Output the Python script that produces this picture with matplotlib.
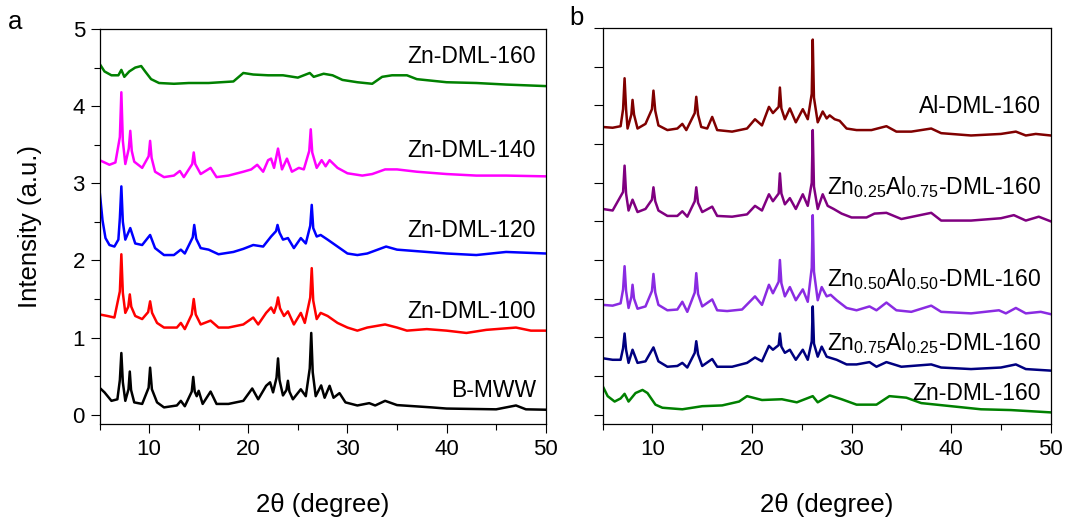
import matplotlib
matplotlib.use("Agg")
import matplotlib.pyplot as plt
from matplotlib.ticker import MultipleLocator

plt.rcParams['font.family'] = ['Liberation Sans', 'DejaVu Sans']
plt.rcParams['mathtext.fontset'] = 'custom'
plt.rcParams['mathtext.rm'] = 'Liberation Sans'

# ---- panel a: peak/baseline points (2theta, intensity) ----
bmww_x = [5, 5.5, 6.2, 6.8, 7.2, 7.6, 8.05, 8.5, 9.3, 10.1, 10.8, 11.5, 12.8, 13.2, 13.6,
          14.45, 14.8, 15.0, 15.4, 16.2, 16.8, 18, 19.5, 20.4, 21, 21.8, 22.2, 22.5, 23.0,
          23.5, 24.0, 24.5, 25.3, 25.8, 26.35, 26.8, 27.35, 27.7, 28.2, 28.6, 29.2, 29.8,
          31, 32.2, 32.8, 33.8, 35, 38.5, 40, 45, 47, 48, 50]
bmww_y = [0.35, 0.29, 0.18, 0.2, 0.8, 0.18, 0.56, 0.16, 0.14, 0.61, 0.16, 0.095, 0.12, 0.18, 0.11,
          0.49, 0.24, 0.31, 0.14, 0.30, 0.14, 0.14, 0.18, 0.34, 0.2, 0.375, 0.42, 0.29, 0.73,
          0.25, 0.44, 0.2, 0.33, 0.24, 1.06, 0.24, 0.38, 0.22, 0.375, 0.22, 0.28, 0.16,
          0.12, 0.15, 0.12, 0.18, 0.125, 0.095, 0.08, 0.07, 0.12, 0.07, 0.065]
# flanks of the sharp reflections
bmww_sx = [7.05, 7.35, 7.92, 8.18, 9.95, 10.28, 14.3, 14.6, 22.85, 23.15, 23.85, 24.15, 26.2, 26.5]
bmww_sy = [0.45, 0.42, 0.33, 0.32, 0.35, 0.33, 0.30, 0.30, 0.48, 0.45, 0.32, 0.30, 0.60, 0.55]

dml100_x = [5, 5.8, 6.5, 7.2, 7.6, 8.05, 8.6, 9.3, 10.1, 10.8, 11.5, 12.8, 13.2, 13.6, 14.5,
            15.2, 16.2, 17, 18, 19.5, 20.5, 21, 21.8, 22.3, 22.6, 23.0, 23.6, 24.0, 24.6,
            25.3, 25.7, 26.4, 26.9, 27.3, 28, 29, 30, 31, 32, 33.8, 35, 36, 38, 40, 42,
            44, 47, 48.5, 50]
dml100_y = [1.30, 1.28, 1.26, 2.08, 1.32, 1.56, 1.28, 1.24, 1.47, 1.19, 1.13, 1.13, 1.19, 1.11, 1.50,
            1.17, 1.22, 1.13, 1.13, 1.17, 1.26, 1.17, 1.32, 1.39, 1.32, 1.52, 1.28, 1.34, 1.17,
            1.32, 1.19, 1.90, 1.24, 1.32, 1.28, 1.19, 1.13, 1.09, 1.13, 1.17, 1.13, 1.09, 1.11, 1.09, 1.06,
            1.10, 1.13, 1.09, 1.09]
dml100_sx = [7.05, 7.35, 7.9, 8.2, 9.9, 10.3, 14.3, 14.7, 22.85, 23.2, 26.25, 26.55]
dml100_sy = [1.60, 1.58, 1.40, 1.40, 1.33, 1.32, 1.30, 1.30, 1.42, 1.38, 1.52, 1.48]

dml120_x = [5, 5.3, 5.6, 6, 6.5, 6.9, 7.2, 7.6, 8.1, 8.6, 9.3, 10.1, 10.6, 11.5, 12.5, 13.2,
            13.6, 14.55, 15.2, 16.0, 17, 18.5, 19.5, 20.5, 21.5, 22.3, 22.95, 23.5, 24.0,
            24.6, 25.3, 25.8, 26.4, 26.9, 27.3, 28, 29, 30, 31, 32, 33.9, 35, 37, 40, 43, 46, 50]
dml120_y = [2.91, 2.52, 2.29, 2.20, 2.18, 2.27, 2.96, 2.27, 2.42, 2.22, 2.20, 2.33, 2.16, 2.07, 2.07, 2.14,
            2.09, 2.46, 2.16, 2.14, 2.08, 2.11, 2.15, 2.20, 2.18, 2.31, 2.46, 2.27, 2.29,
            2.16, 2.29, 2.22, 2.72, 2.31, 2.33, 2.27, 2.18, 2.09, 2.07, 2.09, 2.18, 2.14, 2.12, 2.09, 2.07, 2.11, 2.09]
dml120_sx = [7.05, 7.35, 14.4, 14.75, 22.8, 23.15, 26.25, 26.55]
dml120_sy = [2.55, 2.50, 2.30, 2.28, 2.38, 2.36, 2.45, 2.42]

dml140_x = [5, 6.0, 6.6, 7.2, 7.6, 8.1, 8.5, 9.3, 10.1, 10.6, 11.5, 12.5, 13.1, 13.5, 14.5,
            15.2, 16.2, 16.8, 18, 19.5, 20.3, 20.9, 21.5, 22.0, 22.3, 22.6, 23.0, 23.4, 23.9,
            24.4, 25.1, 25.6, 26.3, 26.9, 27.4, 27.8, 28.2, 29, 30, 31.5, 32.5, 33.8, 35, 37,
            40, 43, 46, 50]
dml140_y = [3.30, 3.24, 3.27, 4.18, 3.25, 3.68, 3.28, 3.20, 3.55, 3.15, 3.08, 3.10, 3.16, 3.08, 3.40,
            3.12, 3.20, 3.08, 3.10, 3.15, 3.18, 3.24, 3.15, 3.30, 3.32, 3.20, 3.45, 3.18, 3.32,
            3.15, 3.20, 3.18, 3.70, 3.20, 3.30, 3.22, 3.30, 3.20, 3.13, 3.10, 3.12, 3.18, 3.18, 3.15,
            3.12, 3.10, 3.10, 3.09]
dml140_sx = [7.05, 7.35, 7.95, 8.25, 9.95, 10.25, 14.35, 14.65, 26.15, 26.45]
dml140_sy = [3.60, 3.55, 3.45, 3.42, 3.35, 3.33, 3.25, 3.25, 3.42, 3.40]

dml160_x = [5, 5.5, 6.2, 6.9, 7.2, 7.5, 8.0, 8.6, 9.2, 9.6, 10.2, 11, 12.5, 14, 16, 18.5, 19.5,
            20.5, 22, 23.5, 25, 26.2, 26.6, 27.6, 28.5, 29.5, 31, 32.5, 33.5, 34.5, 36, 37,
            40, 43, 46, 50]
dml160_y = [4.55, 4.45, 4.40, 4.40, 4.47, 4.38, 4.45, 4.50, 4.52, 4.45, 4.35, 4.30, 4.29, 4.30, 4.30, 4.32, 4.43,
            4.41, 4.40, 4.40, 4.37, 4.43, 4.38, 4.42, 4.40, 4.34, 4.31, 4.29, 4.38, 4.40, 4.40, 4.35,
            4.31, 4.30, 4.28, 4.26]
dml160_sx = []
dml160_sy = []

# ---- panel b ----
al_x = [5, 6, 6.8, 7.2, 7.5, 8.0, 8.5, 9.3, 10.1, 10.6, 11.5, 12.5, 13.0, 13.4, 14.4, 14.9,
        15.5, 16.0, 16.5, 18, 19.5, 20.3, 21, 21.7, 22.1, 22.8, 23.3, 23.8, 24.4, 25.1, 25.6,
        26.1, 26.6, 27.1, 27.5, 27.8, 28.3, 28.8, 29.5, 30.5, 32, 33.5, 34.5, 36, 38, 39,
        42, 45, 46.5, 47.5, 48.5, 50]
al_y = [3.72, 3.71, 3.73, 4.35, 3.70, 4.07, 3.70, 3.76, 4.19, 3.74, 3.68, 3.70, 3.76, 3.68, 4.11, 3.72,
        3.70, 3.85, 3.68, 3.66, 3.70, 3.82, 3.74, 3.98, 3.90, 4.23, 3.82, 3.96, 3.78, 3.95, 3.82,
        4.85, 3.78, 3.92, 3.83, 3.87, 3.82, 3.80, 3.70, 3.68, 3.68, 3.73, 3.66, 3.66, 3.70, 3.64,
        3.61, 3.63, 3.66, 3.61, 3.63, 3.61]
al_sx = [7.05, 7.35, 7.88, 8.15, 9.95, 10.28, 14.25, 14.58, 22.68, 22.95, 26.0, 26.22]
al_sy = [3.95, 3.95, 3.88, 3.88, 3.95, 3.93, 3.90, 3.88, 3.98, 3.96, 4.15, 4.10]

zn25_x = [5, 6, 7.2, 7.6, 8.0, 8.5, 9.3, 10.1, 10.6, 11.5, 12.5, 13.0, 13.5, 14.4, 15, 16.0,
          16.5, 18, 19.5, 20.3, 21, 21.7, 22.1, 22.8, 23.3, 23.8, 24.4, 25.1, 25.6, 26.1, 26.6,
          27.1, 27.6, 28.2, 29, 30, 31.5, 32.3, 33.5, 35, 38, 39, 42, 45, 46.3, 47.5, 48.8, 50]
zn25_y = [2.66, 2.64, 3.22, 2.64, 2.78, 2.62, 2.66, 2.94, 2.64, 2.57, 2.57, 2.63, 2.56, 2.94, 2.62, 2.69,
          2.57, 2.56, 2.59, 2.70, 2.64, 2.85, 2.76, 3.12, 2.72, 2.80, 2.66, 2.85, 2.70, 3.68, 2.66,
          2.85, 2.70, 2.66, 2.60, 2.55, 2.55, 2.60, 2.61, 2.53, 2.61, 2.51, 2.51, 2.54, 2.58, 2.51, 2.56, 2.50]
zn25_sx = [7.05, 7.35, 9.95, 10.28, 14.25, 14.58, 22.68, 22.95, 26.0, 26.22]
zn25_sy = [2.88, 2.86, 2.78, 2.76, 2.76, 2.74, 2.86, 2.86, 3.00, 2.95]

zn50_x = [5, 6, 6.8, 7.2, 7.6, 8.0, 8.5, 9.3, 10.1, 10.6, 11.5, 12.5, 13.0, 13.5, 14.4, 15,
          16.0, 16.5, 17.5, 19, 20.3, 21, 21.7, 22.1, 22.8, 23.3, 23.8, 24.4, 25.1, 25.6, 26.1,
          26.6, 27.0, 27.5, 27.9, 28.5, 29.5, 30.5, 31.8, 32.5, 33.5, 34.5, 36, 38, 39, 42,
          44.8, 45.5, 46.5, 47.5, 49, 50]
zn50_y = [1.42, 1.41, 1.44, 1.92, 1.38, 1.68, 1.37, 1.40, 1.82, 1.42, 1.35, 1.36, 1.46, 1.33, 1.83, 1.40,
          1.49, 1.35, 1.34, 1.36, 1.53, 1.42, 1.68, 1.57, 2.0, 1.53, 1.65, 1.48, 1.62, 1.46, 2.58,
          1.48, 1.65, 1.53, 1.55, 1.48, 1.38, 1.35, 1.40, 1.35, 1.45, 1.35, 1.33, 1.41, 1.33, 1.31,
          1.35, 1.31, 1.38, 1.31, 1.33, 1.30]
zn50_sx = [7.05, 7.35, 7.88, 8.15, 9.95, 10.28, 14.25, 14.58, 22.68, 22.95, 26.0, 26.22]
zn50_sy = [1.62, 1.60, 1.52, 1.50, 1.60, 1.58, 1.58, 1.56, 1.72, 1.70, 1.90, 1.85]

zn75_x = [5, 6, 6.8, 7.2, 7.6, 8.0, 8.5, 9.3, 10.1, 10.6, 11.5, 12.5, 13.0, 13.5, 14.4, 15,
          16.0, 16.5, 18, 19.5, 20.3, 21, 21.7, 22.1, 22.8, 23.3, 23.8, 24.4, 25.1, 25.6, 26.1,
          26.6, 27.0, 27.5, 28.5, 29.5, 30.5, 31.8, 32.5, 33.5, 35, 38, 39, 42, 45, 46.5, 47.5, 50]
zn75_y = [0.73, 0.71, 0.71, 1.05, 0.67, 0.84, 0.67, 0.69, 0.87, 0.69, 0.62, 0.63, 0.67, 0.61, 0.95, 0.63,
          0.72, 0.62, 0.62, 0.67, 0.74, 0.69, 0.89, 0.84, 1.05, 0.80, 0.84, 0.71, 0.84, 0.71, 1.40,
          0.75, 0.88, 0.75, 0.71, 0.65, 0.65, 0.68, 0.62, 0.68, 0.62, 0.65, 0.61, 0.59, 0.61, 0.65, 0.59, 0.57]
zn75_sx = [7.05, 7.35, 14.25, 14.58, 22.68, 22.95, 26.0, 26.22]
zn75_sy = [0.86, 0.84, 0.80, 0.78, 0.90, 0.88, 0.95, 0.92]

znb_x = [5, 5.5, 6.2, 6.8, 7.2, 7.6, 8.3, 9.0, 9.5, 10.3, 11, 13, 15, 17, 18.7, 19.5, 21, 23,
         24.5, 26.1, 26.6, 27.8, 29, 30.5, 32.5, 33.8, 35.5, 37, 40, 43, 46, 50]
znb_y = [0.37, 0.24, 0.17, 0.21, 0.27, 0.17, 0.28, 0.32, 0.28, 0.13, 0.09, 0.07, 0.11, 0.12, 0.17, 0.24, 0.19, 0.20,
         0.16, 0.24, 0.16, 0.25, 0.20, 0.13, 0.13, 0.24, 0.22, 0.15, 0.11, 0.07, 0.06, 0.03]
znb_sx = []
znb_sy = []

series_a = [
    (bmww_x + bmww_sx, bmww_y + bmww_sy, 'black', 'B-MWW', 0.31),
    (dml100_x + dml100_sx, dml100_y + dml100_sy, '#ff0000', 'Zn-DML-100', 1.34),
    (dml120_x + dml120_sx, dml120_y + dml120_sy, '#0000ff', 'Zn-DML-120', 2.39),
    (dml140_x + dml140_sx, dml140_y + dml140_sy, '#ff00ff', 'Zn-DML-140', 3.42),
    (dml160_x + dml160_sx, dml160_y + dml160_sy, '#008000', 'Zn-DML-160', 4.64),
]
series_b = [
    (znb_x + znb_sx, znb_y + znb_sy, '#008000', 'Zn-DML-160', 0.27),
    (zn75_x + zn75_sx, zn75_y + zn75_sy, '#000080',
     r'Zn$_\mathregular{0.75}$Al$_\mathregular{0.25}$-DML-160', 0.93),
    (zn50_x + zn50_sx, zn50_y + zn50_sy, '#8a2be2',
     r'Zn$_\mathregular{0.50}$Al$_\mathregular{0.50}$-DML-160', 1.75),
    (zn25_x + zn25_sx, zn25_y + zn25_sy, '#800080',
     r'Zn$_\mathregular{0.25}$Al$_\mathregular{0.75}$-DML-160', 2.94),
    (al_x + al_sx, al_y + al_sy, '#800000', 'Al-DML-160', 3.99),
]

fig = plt.figure(figsize=(10.68, 5.18), dpi=100)
ax_a = fig.add_axes([0.0932, 0.1815, 0.4178, 0.7625])
ax_b = fig.add_axes([0.5643, 0.1815, 0.4195, 0.7645])

for ax, series in ((ax_a, series_a), (ax_b, series_b)):
    for xs, ys, color, name, ly in series:
        pts = sorted(zip(xs, ys))
        ax.plot([p[0] for p in pts], [p[1] for p in pts], color=color, linewidth=1.8)
        ax.text(49.0, ly, name, ha='right', va='center', fontsize=16.5)
    ax.set_xlim(5, 50)
    ax.set_ylim(-0.12, 5.0)
    ax.xaxis.set_major_locator(MultipleLocator(10))
    ax.xaxis.set_minor_locator(MultipleLocator(5))
    ax.tick_params(which='major', direction='out', length=6.5, width=0.8, labelsize=16, pad=4)
    ax.tick_params(which='minor', direction='out', length=4.2, width=0.8)
    for sp in ax.spines.values():
        sp.set_linewidth(0.9)
    ax.set_xlabel(r'2θ (degree)', fontsize=18.5)
    ax.xaxis.set_label_coords(0.5, -0.175)

ax_a.yaxis.set_major_locator(MultipleLocator(1))
ax_a.yaxis.set_minor_locator(MultipleLocator(0.5))
ax_a.set_ylabel('Intensity (a.u.)', fontsize=18.5)
ax_a.yaxis.set_label_coords(-0.128, 0.5)

ax_b.yaxis.set_major_locator(MultipleLocator(0.5))
ax_b.tick_params(axis='y', labelleft=False)

fig.text(0.014, 0.957, 'a', fontsize=18.5, ha='center', va='center')
fig.text(0.540, 0.965, 'b', fontsize=18.5, ha='center', va='center')

fig.savefig('out.png', dpi=100)
